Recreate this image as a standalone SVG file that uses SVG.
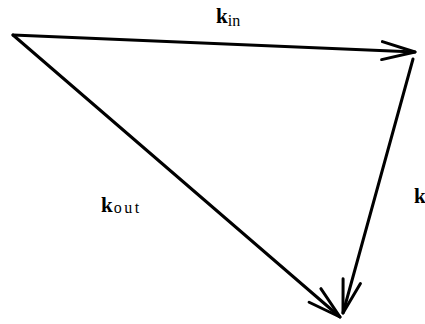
<svg xmlns="http://www.w3.org/2000/svg" width="425" height="324" viewBox="0 0 425 324">
<defs>
<style>
.vec{stroke:#000;stroke-width:3;fill:none;stroke-linecap:round;marker-end:url(#ah)}
.lbl{font-family:"Liberation Serif","Times New Roman",serif;fill:#000}
.k{font-weight:bold;font-size:21px}
.sub{font-size:16px}
</style>
<marker id="ah" markerUnits="userSpaceOnUse" markerWidth="40" markerHeight="24" viewBox="-36 -12 40 24" refX="0" refY="0" orient="auto" overflow="visible">
<path d="M-33,-9 L0,0 L-33,9" fill="none" stroke="#000" stroke-width="3" stroke-linecap="round" stroke-linejoin="round"/>
</marker>
</defs>
<rect width="425" height="324" fill="#fff"/>
<g id="connectors">
<line id="kin-vec" class="vec" x1="13" y1="35" x2="415" y2="52"/>
<line id="k-vec" class="vec" x1="413" y1="59" x2="343" y2="313"/>
<line id="kout-vec" class="vec" x1="13" y1="35" x2="340" y2="317"/>
</g>
<g id="label-kin"><text class="lbl" x="216" y="23"><tspan class="k">k</tspan><tspan class="sub" dy="3">in</tspan></text></g>
<g id="label-kout"><text class="lbl" x="101" y="212"><tspan class="k">k</tspan><tspan class="sub" dx="1" dy="1" letter-spacing="2.5">out</tspan></text></g>
<g id="label-k"><text class="lbl" x="414" y="203"><tspan class="k">k</tspan></text></g>
</svg>
